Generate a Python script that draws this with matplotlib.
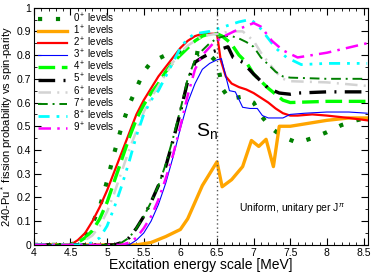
import matplotlib
matplotlib.use('Agg')
import matplotlib.pyplot as plt
from matplotlib.ticker import MultipleLocator

plt.rcParams['font.family'] = ['Liberation Sans', 'DejaVu Sans']
plt.rcParams['mathtext.fontset'] = 'custom'
plt.rcParams['mathtext.rm'] = 'Liberation Sans'
plt.rcParams['mathtext.it'] = 'Liberation Sans:italic'

# fission probability per J^pi
x0 = [4.0, 4.5, 4.6, 4.7, 4.8, 4.9, 5.0, 5.1, 5.2, 5.3, 5.4, 5.5, 5.6, 5.8, 6.0, 6.2, 6.4, 6.5, 6.53, 6.57, 6.67, 6.85, 7.0, 7.1, 7.25, 7.4, 7.6, 7.8, 8.0, 8.2, 8.4, 8.55]
y0 = [0, 0.0, 0.015, 0.04, 0.09, 0.16, 0.27, 0.39, 0.5, 0.59, 0.66, 0.73, 0.77, 0.8, 0.81, 0.81, 0.8, 0.77, 0.73, 0.66, 0.615, 0.625, 0.6, 0.545, 0.49, 0.455, 0.43, 0.45, 0.475, 0.505, 0.525, 0.535]

x1 = [4.0, 5.4, 5.6, 5.8, 6.0, 6.1, 6.2, 6.3, 6.4, 6.5, 6.57, 6.7, 6.85, 6.97, 7.07, 7.17, 7.27, 7.35, 7.5, 7.7, 8.0, 8.3, 8.55]
y1 = [0, 0.0, 0.01, 0.035, 0.065, 0.11, 0.18, 0.25, 0.3, 0.35, 0.245, 0.275, 0.33, 0.44, 0.415, 0.445, 0.33, 0.5, 0.5, 0.51, 0.525, 0.535, 0.535]

x2 = [4.0, 4.5, 4.6, 4.7, 4.8, 4.9, 5.0, 5.1, 5.2, 5.3, 5.4, 5.5, 5.6, 5.7, 5.8, 5.9, 6.0, 6.1, 6.2, 6.3, 6.4, 6.5, 6.55, 6.62, 6.7, 6.8, 6.9, 7.0, 7.1, 7.2, 7.3, 7.4, 7.5, 7.6, 7.8, 8.0, 8.3, 8.55]
y2 = [0, 0.0, 0.02, 0.05, 0.1, 0.16, 0.23, 0.31, 0.39, 0.47, 0.55, 0.61, 0.66, 0.71, 0.75, 0.79, 0.83, 0.86, 0.88, 0.89, 0.89, 0.89, 0.78, 0.71, 0.68, 0.665, 0.655, 0.64, 0.62, 0.6, 0.575, 0.555, 0.545, 0.545, 0.55, 0.545, 0.535, 0.525]

x3 = [4.0, 5.3, 5.4, 5.5, 5.6, 5.7, 5.8, 5.9, 6.0, 6.1, 6.2, 6.3, 6.4, 6.5, 6.56, 6.62, 6.67, 6.75, 6.85, 6.95, 7.05, 7.12, 7.2, 7.3, 7.4, 7.5, 7.7, 8.0, 8.3, 8.55]
y3 = [0, 0.0, 0.02, 0.05, 0.1, 0.17, 0.26, 0.37, 0.49, 0.6, 0.68, 0.74, 0.765, 0.78, 0.785, 0.71, 0.65, 0.645, 0.58, 0.575, 0.575, 0.545, 0.535, 0.535, 0.535, 0.55, 0.555, 0.56, 0.56, 0.555]

x4 = [4.0, 4.5, 4.6, 4.7, 4.8, 4.9, 5.0, 5.1, 5.2, 5.3, 5.4, 5.5, 5.6, 5.7, 5.8, 5.9, 6.0, 6.1, 6.2, 6.3, 6.4, 6.5, 6.57, 6.69, 6.8, 6.9, 7.0, 7.1, 7.2, 7.3, 7.4, 7.5, 8.0, 8.55]
y4 = [0, 0.0, 0.01, 0.03, 0.06, 0.11, 0.18, 0.27, 0.36, 0.45, 0.53, 0.59, 0.64, 0.68, 0.73, 0.77, 0.8, 0.83, 0.86, 0.88, 0.89, 0.89, 0.88, 0.85, 0.8, 0.77, 0.72, 0.69, 0.66, 0.635, 0.61, 0.6, 0.605, 0.605]

x5 = [4.0, 5.1, 5.2, 5.3, 5.4, 5.5, 5.6, 5.7, 5.8, 5.9, 6.0, 6.1, 6.2, 6.3, 6.45, 6.65, 6.72, 6.85, 7.0, 7.1, 7.2, 7.35, 7.5, 7.6, 8.0, 8.55]
y5 = [0, 0.0, 0.01, 0.03, 0.07, 0.12, 0.18, 0.25, 0.33, 0.44, 0.56, 0.69, 0.77, 0.79, 0.815, 0.835, 0.79, 0.77, 0.72, 0.69, 0.66, 0.64, 0.635, 0.64, 0.645, 0.645]

x6 = [4.0, 4.6, 4.7, 4.8, 4.9, 5.0, 5.1, 5.2, 5.3, 5.4, 5.5, 5.6, 5.7, 5.8, 5.9, 6.0, 6.1, 6.2, 6.3, 6.5, 6.7, 6.85, 7.0, 7.1, 7.2, 7.3, 7.4, 7.5, 8.0, 8.55]
y6 = [0, 0.0, 0.02, 0.04, 0.08, 0.14, 0.22, 0.31, 0.4, 0.48, 0.56, 0.62, 0.67, 0.72, 0.77, 0.81, 0.84, 0.86, 0.88, 0.89, 0.9, 0.9, 0.86, 0.81, 0.77, 0.73, 0.7, 0.69, 0.685, 0.67]

x7 = [4.0, 5.1, 5.2, 5.3, 5.4, 5.5, 5.6, 5.7, 5.8, 5.9, 6.0, 6.1, 6.2, 6.3, 6.4, 6.5, 6.6, 6.7, 6.8, 6.9, 7.0, 7.1, 7.2, 7.3, 7.4, 7.5, 8.0, 8.55]
y7 = [0, 0.0, 0.01, 0.03, 0.07, 0.12, 0.18, 0.25, 0.34, 0.45, 0.57, 0.7, 0.78, 0.82, 0.85, 0.87, 0.88, 0.88, 0.87, 0.855, 0.835, 0.79, 0.76, 0.73, 0.71, 0.705, 0.70, 0.70]

x8 = [4.0, 4.7, 4.8, 4.9, 5.0, 5.1, 5.2, 5.3, 5.4, 5.5, 5.6, 5.7, 5.8, 5.9, 6.0, 6.1, 6.2, 6.4, 6.6, 6.8, 6.95, 7.05, 7.2, 7.3, 7.45, 7.65, 8.0, 8.55]
y8 = [0, 0.0, 0.01, 0.03, 0.08, 0.16, 0.25, 0.35, 0.46, 0.55, 0.61, 0.65, 0.71, 0.77, 0.83, 0.87, 0.89, 0.9, 0.92, 0.94, 0.95, 0.93, 0.87, 0.83, 0.79, 0.76, 0.765, 0.765]

x9 = [4.0, 5.2, 5.3, 5.4, 5.5, 5.6, 5.7, 5.8, 5.9, 6.0, 6.1, 6.2, 6.3, 6.45, 6.6, 6.8, 7.0, 7.1, 7.25, 7.4, 7.6, 8.0, 8.55]
y9 = [0, 0.0, 0.01, 0.03, 0.07, 0.12, 0.19, 0.28, 0.38, 0.5, 0.63, 0.74, 0.8, 0.85, 0.88, 0.91, 0.935, 0.92, 0.86, 0.82, 0.79, 0.81, 0.85]

labels = [r'0$^+$ levels', r'1$^+$ levels', r'2$^+$ levels', r'3$^+$ levels', r'4$^+$ levels',
          r'5$^+$ levels', r'6$^+$ levels', r'7$^+$ levels', r'8$^+$ levels', r'9$^+$ levels']

fig = plt.figure(figsize=(3.72, 2.73), dpi=100)
ax = fig.add_axes([0.091, 0.103, 0.898, 0.869])

ax.plot(x0, y0, color='#008000', lw=3.0, ls=(0, (1, 3.3)), label=labels[0])
ax.plot(x1, y1, color='#ffa500', lw=2.4, label=labels[1])
ax.plot(x2, y2, color='red', lw=1.6, label=labels[2])
ax.plot(x3, y3, color='blue', lw=0.8, label=labels[3])
ax.plot(x4, y4, color='#00ff00', lw=2.4, ls=(0, (5, 2)), label=labels[4])
ax.plot(x5, y5, color='black', lw=2.4, ls=(0, (5, 2.5, 0.6, 2.5)), label=labels[5])
ax.plot(x6, y6, color='#d3d3d3', lw=1.8, ls=(0, (5, 2.5, 0.8, 2.5)), label=labels[6])
ax.plot(x7, y7, color='#008000', lw=1.4, ls=(0, (5, 2.5, 1, 2.5)), label=labels[7])
ax.plot(x8, y8, color='cyan', lw=2.0, ls=(0, (4, 2.5, 1, 2.5, 1, 2.5)), label=labels[8])
ax.plot(x9, y9, color='magenta', lw=1.8, ls=(0, (5, 2.5, 1, 2.5)), label=labels[9])

ax.axvline(6.5, color='#555555', lw=1.0, ls=(0, (1, 2)))
ax.text(6.22, 0.46, r'S$_\mathrm{n}$', fontsize=14)
ax.text(6.8, 0.14, r'Uniform, unitary per J$^\pi$', fontsize=7.5)

ax.set_xlim(4, 8.56)
ax.set_ylim(0, 1)
ax.xaxis.set_minor_locator(MultipleLocator(0.1))
ax.yaxis.set_minor_locator(MultipleLocator(0.05))
ax.set_xticks([4, 4.5, 5, 5.5, 6, 6.5, 7, 7.5, 8, 8.5])
ax.set_xticklabels(['4', '4.5', '5', '5.5', '6', '6.5', '7', '7.5', '8', '8.5'])
ax.set_yticks([0, 0.1, 0.2, 0.3, 0.4, 0.5, 0.6, 0.7, 0.8, 0.9, 1])
ax.set_yticklabels(['0', '0.1', '0.2', '0.3', '0.4', '0.5', '0.6', '0.7', '0.8', '0.9', '1'])
ax.tick_params(which='both', direction='in', top=True, right=True, labelsize=7.5, pad=2)
ax.tick_params(which='major', length=5)
ax.tick_params(which='minor', length=2.5)

ax.set_xlabel('Excitation energy scale [MeV]', fontsize=10, labelpad=0)
ax.set_ylabel(r'240-Pu$^*$ fission probability vs spin-parity', fontsize=8)
ax.yaxis.set_label_coords(-0.055, 0.5)

ax.legend(loc='upper left', frameon=False, fontsize=7, handlelength=3.0,
          handletextpad=0.6, labelspacing=-0.12, borderaxespad=0.2, borderpad=0.2)

plt.savefig('out.png', dpi=100)
